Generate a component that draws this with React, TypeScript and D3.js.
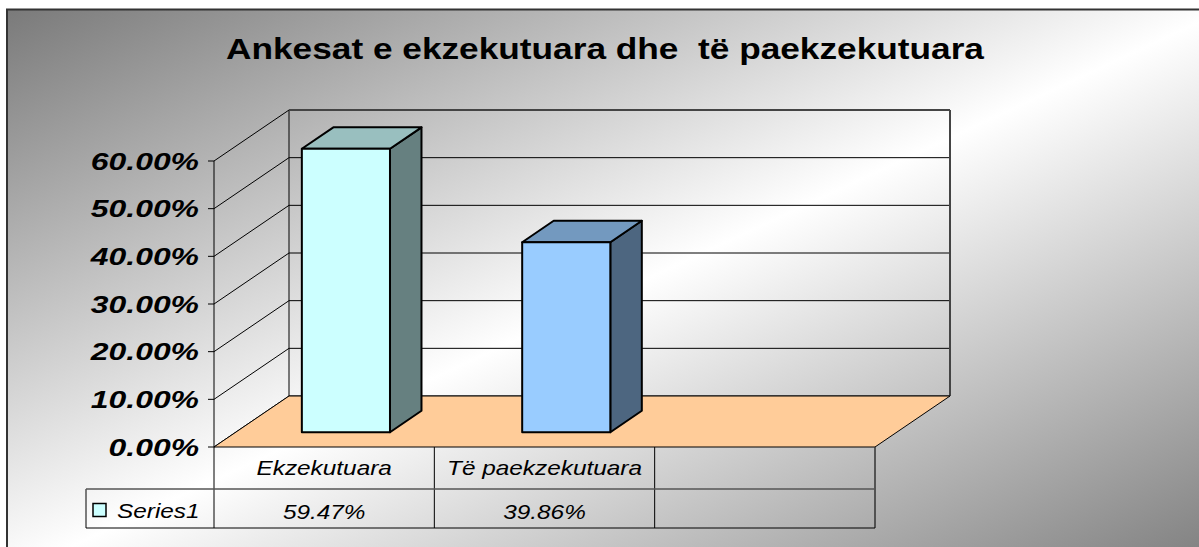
import React from "react";
import * as d3 from "d3";

const title = "Ankesat e ekzekutuara dhe  të paekzekutuara";
const categories = ["Ekzekutuara", "Të paekzekutuara", ""];
const values: (number | null)[] = [0.5947, 0.3986, null];
const seriesName = "Series1";
const tickValues = [0, 0.1, 0.2, 0.3, 0.4, 0.5, 0.6];
const frontColors = ["#CCFFFF", "#99CCFF"];

const W = 1199;
const H = 547;
const FONT = "'Liberation Sans', Arial, Helvetica, sans-serif";

// plot geometry
const FX0 = 214;
const FX1 = 875;
const FY0 = 447;
const FYTOP = 161;
const DX = 75;
const DY = 51;
const Z0 = 0.29;
const Z1 = 0.71;

const TABLE_LEFT = 86;
const ROW1 = 489;
const ROW2 = 528;

function shade(c: string, k: number) {
  const col = d3.rgb(c);
  return d3.rgb(col.r * k, col.g * k, col.b * k).formatHex();
}

function SText(props: {
  x: number;
  y: number;
  anchor?: string;
  size: number;
  sx?: number;
  weight?: string;
  italic?: boolean;
  children: React.ReactNode;
}) {
  return (
    <text
      transform={`translate(${props.x},${props.y}) scale(${props.sx ?? 1.16},1)`}
      textAnchor={props.anchor || "start"}
      fontSize={props.size}
      fontWeight={props.weight || "normal"}
      fontStyle={props.italic ? "italic" : "normal"}
      fontFamily={FONT}
      fill="#000"
      style={{ whiteSpace: "pre" }}
    >
      {props.children}
    </text>
  );
}

export default function App() {
  const y = d3.scaleLinear().domain([0, 0.6]).range([FY0, FYTOP]);
  const x = d3
    .scaleBand<number>()
    .domain(categories.map((_, i) => i))
    .range([FX0, FX1])
    .paddingInner(0)
    .paddingOuter(0);
  const step = x.step();
  const bw = step * 0.4;
  const fmt = d3.format(".2%");

  const px = (xx: number, z: number) => xx + z * DX;
  const py = (yy: number, z: number) => yy - z * DY;
  const pt = (xx: number, yy: number, z: number) => `${px(xx, z)},${py(yy, z)}`;

  const backTop = py(y(0.6), 1);
  const backBottom = py(y(0), 1);

  return (
    <svg
      width={W}
      height={H}
      style={{ position: "absolute", left: 0, top: 0, display: "block" }}
    >
      <defs>
        <linearGradient id="bg" x1="0" y1="0" x2="1" y2="1">
          <stop offset="0" stopColor="#7a7a7a" />
          <stop offset="0.5" stopColor="#ffffff" />
          <stop offset="1" stopColor="#7a7a7a" />
        </linearGradient>
      </defs>
      <rect x={0} y={0} width={W} height={H} fill="#fff" />
      <rect x={7} y={9.5} width={W + 20} height={H + 20} fill="url(#bg)" stroke="#333" strokeWidth={2} />

      {/* title */}
      <SText x={605} y={59} anchor="middle" size={30} sx={1.175} weight="bold">
        {title}
      </SText>

      {/* gridlines: side wall diagonals and back wall */}
      {tickValues.map((t) => (
        <g key={t}>
          <line x1={FX0} y1={y(t)} x2={px(FX0, 1)} y2={py(y(t), 1)} stroke="#000" strokeWidth={1} />
          <line x1={px(FX0, 1)} y1={py(y(t), 1)} x2={px(FX1, 1)} y2={py(y(t), 1)} stroke="#000" strokeWidth={1} />
        </g>
      ))}
      <line x1={px(FX0, 1)} y1={backTop} x2={px(FX0, 1)} y2={backBottom} stroke="#000" strokeWidth={1} />
      <line x1={px(FX1, 1)} y1={backTop} x2={px(FX1, 1)} y2={backBottom} stroke="#444" strokeWidth={2} />
      <line x1={px(FX0, 1)} y1={backTop} x2={px(FX1, 1)} y2={backTop} stroke="#444" strokeWidth={2} />

      {/* floor */}
      <polygon
        points={[pt(FX0, FY0, 0), pt(FX1, FY0, 0), pt(FX1, FY0, 1), pt(FX0, FY0, 1)].join(" ")}
        fill="#FFCC99"
        stroke="#000"
        strokeWidth={1}
      />

      {/* bars */}
      {values.map((v, i) => {
        if (v == null) return null;
        const c = frontColors[i % frontColors.length];
        const xl = (x(i) as number) + (step - bw) / 2;
        const xr = xl + bw;
        const yt = y(v);
        const yb = y(0);
        return (
          <g key={i} stroke="#000" strokeWidth={2} strokeLinejoin="round">
            <polygon
              points={[pt(xr, yb, Z0), pt(xr, yb, Z1), pt(xr, yt, Z1), pt(xr, yt, Z0)].join(" ")}
              fill={shade(c, 0.5)}
            />
            <polygon
              points={[pt(xl, yt, Z0), pt(xr, yt, Z0), pt(xr, yt, Z1), pt(xl, yt, Z1)].join(" ")}
              fill={shade(c, 0.75)}
            />
            <polygon
              points={[pt(xl, yb, Z0), pt(xr, yb, Z0), pt(xr, yt, Z0), pt(xl, yt, Z0)].join(" ")}
              fill={c}
            />
          </g>
        );
      })}

      {/* value axis */}
      <line x1={FX0} y1={y(0.6)} x2={FX0} y2={FY0} stroke="#000" strokeWidth={1} />
      {tickValues.map((t) => (
        <g key={"tk" + t}>
          <line x1={FX0 - 6} y1={y(t)} x2={FX0} y2={y(t)} stroke="#000" strokeWidth={1} />
          <SText x={199} y={y(t) + 8.5} anchor="end" size={24} sx={1.33} weight="bold" italic>
            {fmt(t)}
          </SText>
        </g>
      ))}

      {/* data table */}
      <g stroke="#000" strokeWidth={1} fill="none">
        {categories.map((_, i) => (
          <line key={"v" + i} x1={x(i) as number} y1={FY0} x2={x(i) as number} y2={ROW2} />
        ))}
        <line x1={FX1} y1={FY0} x2={FX1} y2={ROW2} stroke="#333" strokeWidth={1.5} />
        <line x1={TABLE_LEFT} y1={ROW1} x2={TABLE_LEFT} y2={ROW2} />
        <line x1={TABLE_LEFT} y1={ROW1} x2={FX1} y2={ROW1} stroke="#555" strokeWidth={1.5} />
        <line x1={TABLE_LEFT} y1={ROW2} x2={FX1} y2={ROW2} />
      </g>
      {categories.map((c, i) => (
        <SText key={"c" + i} x={(x(i) as number) + step / 2} y={475} anchor="middle" size={21} italic>
          {c}
        </SText>
      ))}
      {values.map((v, i) =>
        v == null ? null : (
          <SText key={"val" + i} x={(x(i) as number) + step / 2} y={519} anchor="middle" size={21} italic>
            {fmt(v)}
          </SText>
        )
      )}
      <rect x={93} y={503.5} width={13} height={13} fill={frontColors[0]} stroke="#000" strokeWidth={1.5} />
      <SText x={117} y={518} size={21} italic>
        {seriesName}
      </SText>
    </svg>
  );
}
